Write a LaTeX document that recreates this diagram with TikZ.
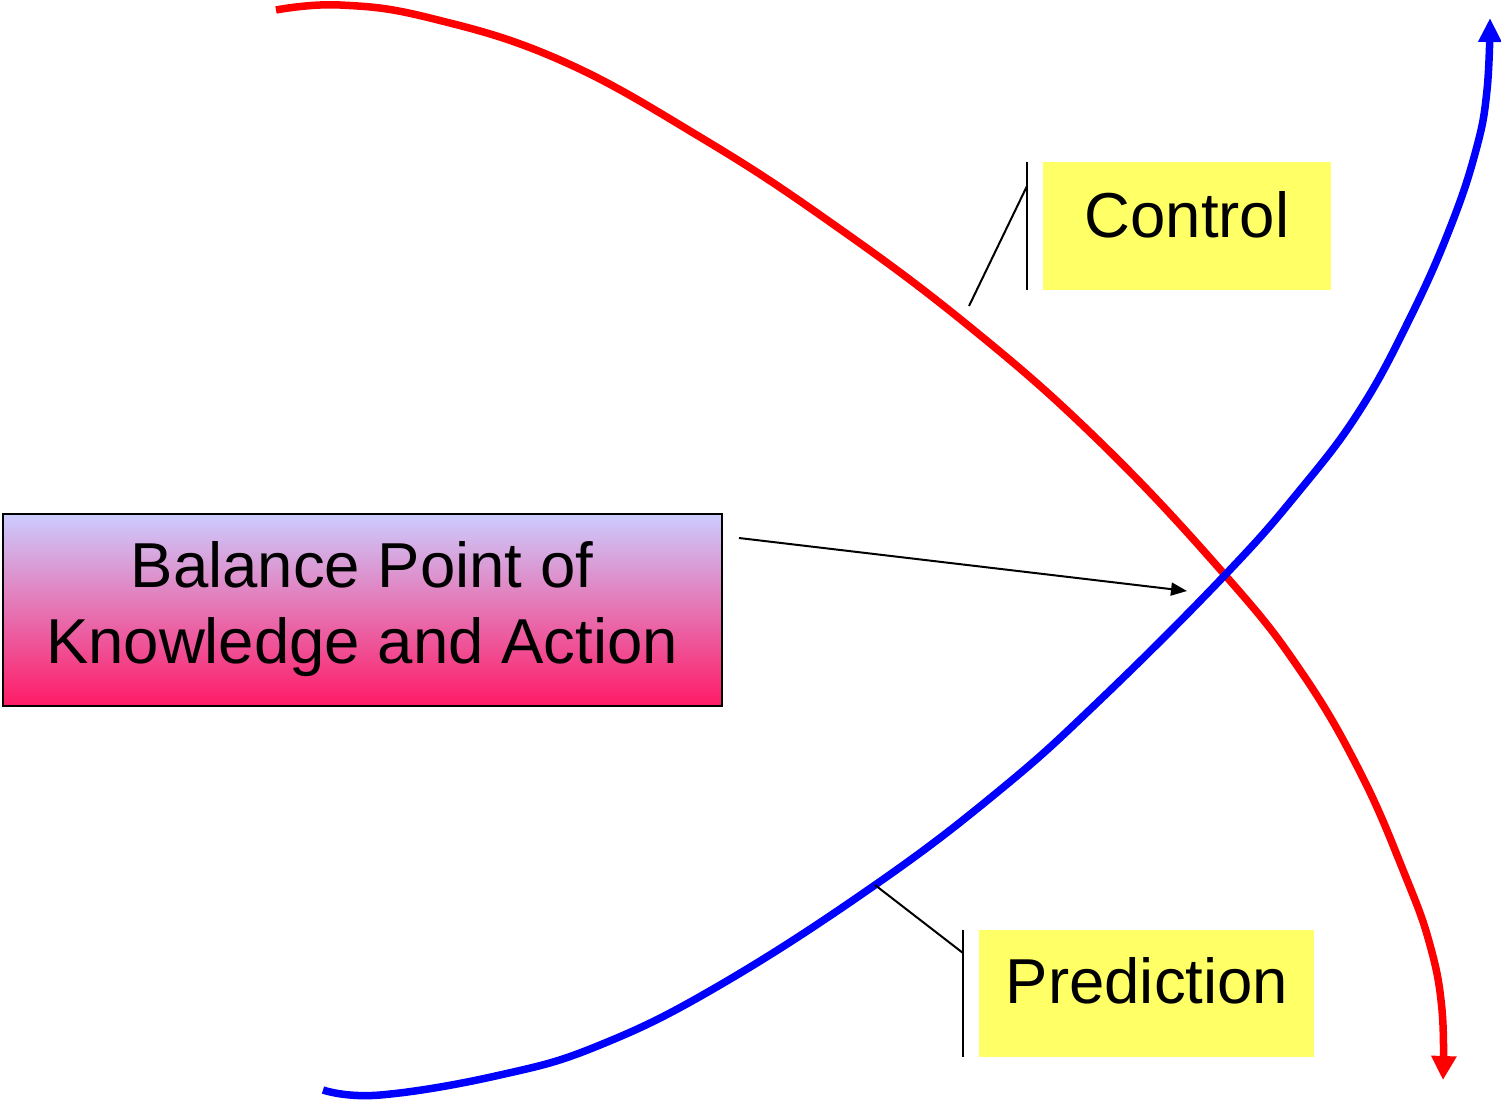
\documentclass[tikz,border=0pt]{standalone}
\usepackage{fontspec}
\setmainfont{Liberation Sans}
\usetikzlibrary{arrows.meta}
\definecolor{boxyellow}{HTML}{FFFF66}
\definecolor{gradtop}{HTML}{CCCCFF}
\definecolor{gradbot}{HTML}{FF1A66}
\tikzset{
  curve/.style={line width=7.5pt, line join=round},
  redcurve/.style={curve, draw={rgb,255:red,255;green,0;blue,0}, -{Triangle[length=24pt,width=24pt]}},
  bluecurve/.style={curve, draw={rgb,255:red,0;green,0;blue,255}, -{Triangle[length=24pt,width=22pt]}},
  labelbox/.style={fill=boxyellow, draw=none, minimum width=288pt, minimum height=128pt, inner sep=0pt},
  bigtext/.style={font=\fontsize{63.5}{76}\selectfont, text=black},
  callout/.style={draw=black, line width=2pt},
}
\begin{document}
\begin{tikzpicture}[x=1pt,y=-1pt]
\useasboundingbox (0,0) rectangle (1501,1103);
% red curve (Control)
\draw[redcurve] plot[smooth, tension=0.7] coordinates {(276,10) (340,5) (430,18) (560,60) (700,137) (830,222) (970,327) (1100,442) (1225,575) (1300,670) (1360,772) (1405,875) (1430,945) (1442,1010) (1443,1080)};
% blue curve (Prediction)
\draw[bluecurve] plot[smooth, tension=0.7] coordinates {(323,1090) (380,1095) (500,1075) (600,1045) (720,985) (875,885) (1000,790) (1100,700) (1225,575) (1300,490) (1360,410) (1410,318) (1450,228) (1476,150) (1487,90) (1490,18)};
% Control label
\node[labelbox, minimum width=288pt] (ctrl) at (1187,226) {};
\node[bigtext, anchor=base] (ctrltxt) at (1187,237) {Control};
\coordinate (cbtop) at (1027,162);
\coordinate (cbbot) at (1027,290);
\coordinate (cbknee) at (1027,186);
\coordinate (cbend) at (969,306);
\draw[callout] (cbtop) -- (cbbot);
\draw[callout] (cbknee) -- (cbend);
% Prediction label
\node[labelbox, minimum width=335pt, minimum height=127pt] (pred) at (1146.5,993.5) {};
\node[bigtext, anchor=base] (predtxt) at (1147,1003) {Prediction};
\coordinate (pbtop) at (963,930);
\coordinate (pbbot) at (963,1057);
\coordinate (pbknee) at (963,953);
\coordinate (pbend) at (875,885);
\draw[callout] (pbtop) -- (pbbot);
\draw[callout] (pbknee) -- (pbend);
% Balance box
\node[draw=black, line width=2pt, top color=gradtop, bottom color=gradbot, minimum width=719pt, minimum height=192pt, inner sep=0pt] (bal) at (362.5,610) {};
\node[bigtext, anchor=base] (bal1) at (362,587) {Balance Point of};
\node[bigtext, anchor=base] (bal2) at (362,663) {Knowledge and Action};
% pointer arrow
\coordinate (arrstart) at (739,538);
\coordinate (arrend) at (1187,591);
\draw[line width=2pt, -{Triangle[length=16pt,width=13pt]}] (arrstart) -- (arrend);
\end{tikzpicture}
\end{document}
